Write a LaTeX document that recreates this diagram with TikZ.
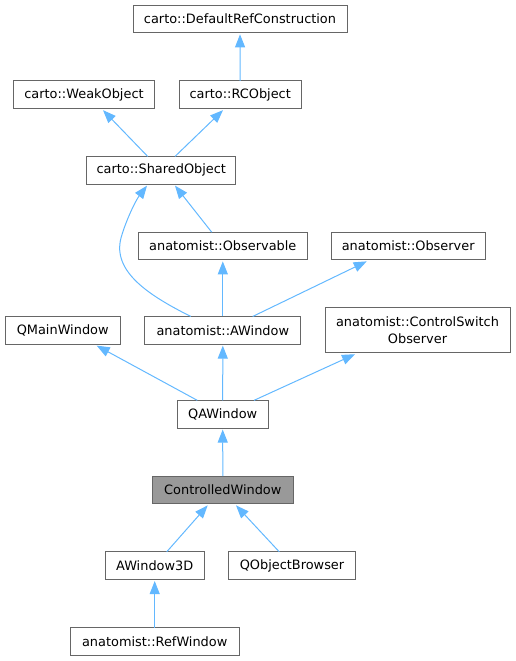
\documentclass[tikz,border=0pt]{standalone}
\usepackage{fontspec}
\setmainfont{DejaVu Sans}
\usetikzlibrary{arrows.meta}
\definecolor{edgeblue}{HTML}{63B8FF}
\definecolor{boxgray}{HTML}{666666}
\definecolor{fillgray}{HTML}{999999}
\begin{document}
\begin{tikzpicture}[x=1pt,y=-1pt,
  cls/.style={draw=boxgray, line width=1pt, fill=white, inner sep=0pt, outer sep=0pt,
    minimum height=27.7pt, align=center, font=\fontsize{12.9}{16.7}\selectfont},
  cur/.style={cls, fill=fillgray},
  inh/.style={draw=edgeblue, line width=1pt, -{Triangle[length=13pt,width=10pt]}}]
\useasboundingbox (0,0) rectangle (516,661);
\node[cls, minimum width=214pt] (drc) at (240,19) {carto::DefaultRefConstruction};
\node[cls, minimum width=140.6pt] (weak) at (84,94.8) {carto::WeakObject};
\node[cls, minimum width=122.3pt] (rc) at (240.2,94.8) {carto::RCObject};
\node[cls, minimum width=149.3pt] (shared) at (161.3,170.3) {carto::SharedObject};
\node[cls, minimum width=169pt] (observable) at (222.8,246) {anatomist::Observable};
\node[cls, minimum width=154.3pt] (observer) at (408.2,246) {anatomist::Observer};
\node[cls, minimum width=115.3pt] (qmain) at (62.7,330.3) {QMainWindow};
\node[cls, minimum width=155.7pt] (awin) at (222.8,330.3) {anatomist::AWindow};
\node[cls, minimum width=185pt, minimum height=45pt] (ctrl) at (417.5,330.2) {anatomist::ControlSwitch\\Observer};
\node[cls, minimum width=91.3pt] (qawin) at (222.7,414.2) {QAWindow};
\node[cur, minimum width=141pt] (cw) at (222.8,490) {ControlledWindow};
\node[cls, minimum width=99.3pt] (aw3d) at (154.7,565.7) {AWindow3D};
\node[cls, minimum width=126.6pt] (qob) at (292,565.7) {QObjectBrowser};
\node[cls, minimum width=169.3pt] (ref) at (154.7,641.5) {anatomist::RefWindow};

\draw[inh] (rc.north) -- ([yshift=-1.5pt]drc.south);
\draw[inh] ([xshift=-13.6pt]shared.north) -- ([xshift=19pt,yshift=-1.5pt]weak.south);
\draw[inh] ([xshift=13.7pt]shared.north) -- ([xshift=-17.2pt,yshift=-1.5pt]rc.south);
\draw[inh] ([xshift=-32pt]awin.north) .. controls (150,296) and (112,272) .. (121,238)
   .. controls (126,220) and (136,200) .. ([xshift=-14.3pt,yshift=-1.5pt]shared.south);
\draw[inh] ([xshift=-11.1pt]observable.north) -- ([xshift=13.7pt,yshift=-1.5pt]shared.south);
\draw[inh] (awin.north) -- ([yshift=-1.5pt]observable.south);
\draw[inh] ([xshift=29.9pt]awin.north) -- ([xshift=-41.5pt,yshift=-1.5pt]observer.south);
\draw[inh] ([xshift=-25.4pt]qawin.north) -- ([xshift=34pt,yshift=-1.5pt]qmain.south);
\draw[inh] (qawin.north) -- ([yshift=-1.5pt]awin.south);
\draw[inh] ([xshift=31.3pt]qawin.north) -- ([xshift=-62.5pt,yshift=-1.5pt]ctrl.south);
\draw[inh] (cw.north) -- ([yshift=-1.5pt]qawin.south);
\draw[inh] ([xshift=12pt]aw3d.north) -- ([xshift=-15.1pt,yshift=-1.5pt]cw.south);
\draw[inh] ([xshift=-12.7pt]qob.north) -- ([xshift=13.2pt,yshift=-1.5pt]cw.south);
\draw[inh] (ref.north) -- ([yshift=-1.5pt]aw3d.south);
\end{tikzpicture}
\end{document}
